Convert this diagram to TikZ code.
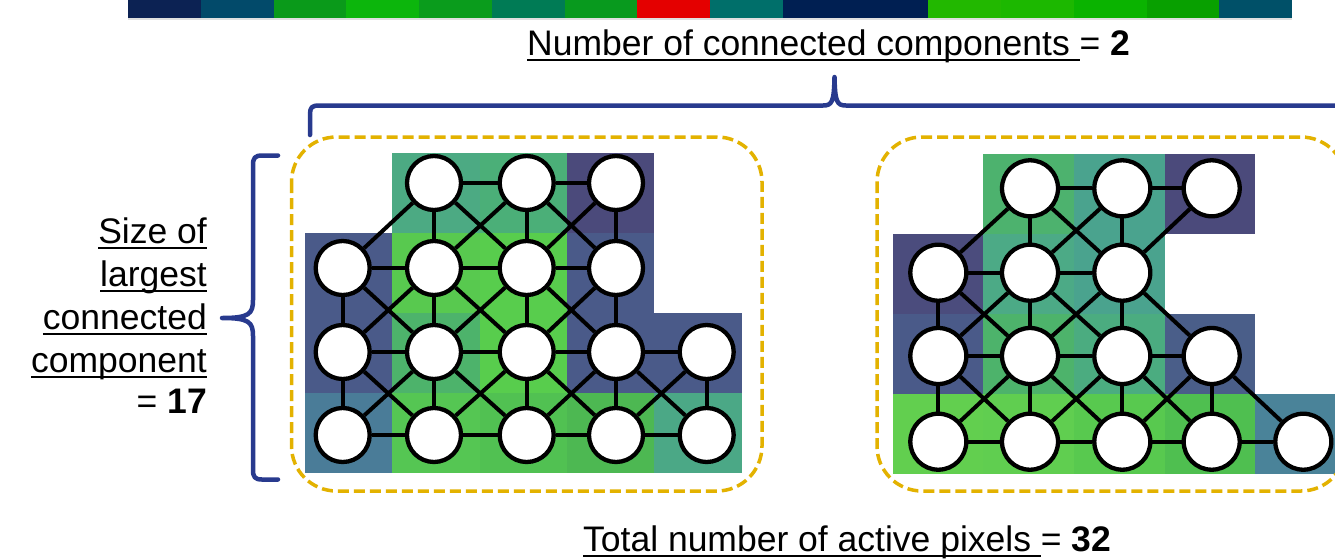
\documentclass[tikz,border=0pt]{standalone}
\usepackage{fontspec}
\setmainfont{Liberation Sans}
\newcommand{\ulx}[1]{\setbox0=\hbox{#1}\rlap{\rule[-0.17em]{\wd0}{0.065em}}\box0}
% top bar
\definecolor{b1}{HTML}{0C2253}
\definecolor{b2}{HTML}{024A6A}
\definecolor{b3}{HTML}{0A9A1A}
\definecolor{b4}{HTML}{0CB60C}
\definecolor{b5}{HTML}{0A9C1C}
\definecolor{b6}{HTML}{007B55}
\definecolor{b7}{HTML}{089A1E}
\definecolor{b8}{HTML}{E40000}
\definecolor{b9}{HTML}{006F6A}
\definecolor{b10}{HTML}{001F52}
\definecolor{b11}{HTML}{001F52}
\definecolor{b12}{HTML}{22B800}
\definecolor{b13}{HTML}{1CB800}
\definecolor{b14}{HTML}{0AB300}
\definecolor{b15}{HTML}{08A000}
\definecolor{b16}{HTML}{005068}
% cell palette
\definecolor{cteal}{HTML}{4CAA83}
\definecolor{cteal2}{HTML}{4BAF78}
\definecolor{cpurp}{HTML}{4B4A7B}
\definecolor{cslate}{HTML}{4A5A89}
\definecolor{cbright}{HTML}{58C94F}
\definecolor{cbright2}{HTML}{58CD4D}
\definecolor{cmid}{HTML}{4DB36B}
\definecolor{csteel}{HTML}{4A7C98}
\definecolor{cg1}{HTML}{55C653}
\definecolor{cg2}{HTML}{51C152}
\definecolor{cg3}{HTML}{4DB852}
\definecolor{cteal3}{HTML}{4BA886}
\definecolor{rgreen}{HTML}{4DB26E}
\definecolor{rteal}{HTML}{4AA38E}
\definecolor{rpurp}{HTML}{4B4C7D}
\definecolor{rteal2}{HTML}{4CAA86}
\definecolor{rmid}{HTML}{4BAC80}
\definecolor{rslate}{HTML}{4A5E89}
\definecolor{rb1}{HTML}{62CF4F}
\definecolor{rb2}{HTML}{60CE50}
\definecolor{rb3}{HTML}{58C94F}
\definecolor{rb4}{HTML}{4FBF50}
\definecolor{rsteel}{HTML}{4A8399}
\definecolor{boxgold}{HTML}{E3B200}
\definecolor{braceblue}{HTML}{283A8E}
\begin{document}
\begin{tikzpicture}[x=1pt,y=-1pt,
  nd/.style={circle,draw=black,fill=white,line width=4.3pt,minimum size=54pt,inner sep=0pt},
  ndr/.style={nd,minimum size=56pt},
  edgeline/.style={line width=4pt,black},
  gbox/.style={draw=boxgold,line width=3.5pt,dash pattern=on 11pt off 5pt,rounded corners=45pt},
  brace/.style={draw=braceblue,line width=4.5pt,line cap=round,line join=round},
  lbl/.style={font=\fontsize{35.5}{43}\selectfont,inner sep=0pt}]
\path[use as bounding box] (0,0) rectangle (1335,558);
\clip (0,0) rectangle (1335,558);
\fill[white] (0,0) rectangle (1335,558);
% top colour bar
\foreach \i in {1,...,16}{
  \fill[b\i] ({128+(\i-1)*72.75},0) rectangle ({128+\i*72.75+0.3},18);
}
\fill[black!12] (128,18) rectangle (1292,19.5);
% ---------- left grid cells ----------
\def\cellL#1#2#3{\fill[#3] ({305+#1*87.35},{153+#2*80}) rectangle ({305+(#1+1)*87.35},{153+(#2+1)*80});}
\cellL{1}{0}{cteal}\cellL{2}{0}{cteal2}\cellL{3}{0}{cpurp}
\cellL{0}{1}{cslate}\cellL{1}{1}{cbright}\cellL{2}{1}{cbright2}\cellL{3}{1}{cslate}
\cellL{0}{2}{cslate}\cellL{1}{2}{cmid}\cellL{2}{2}{cbright2}\cellL{3}{2}{cslate}\cellL{4}{2}{cslate}
\cellL{0}{3}{csteel}\cellL{1}{3}{cg1}\cellL{2}{3}{cg2}\cellL{3}{3}{cg3}\cellL{4}{3}{cteal3}
% ---------- right grid cells ----------
\def\cellR#1#2#3{\fill[#3] ({892.5+#1*90.7},{154+#2*80}) rectangle ({892.5+(#1+1)*90.7},{154+(#2+1)*80});}
\cellR{1}{0}{rgreen}\cellR{2}{0}{rteal}\cellR{3}{0}{cpurp}
\cellR{0}{1}{rpurp}\cellR{1}{1}{rteal2}\cellR{2}{1}{rteal}
\cellR{0}{2}{cslate}\cellR{1}{2}{cmid}\cellR{2}{2}{rmid}\cellR{3}{2}{rslate}
\cellR{0}{3}{rb1}\cellR{1}{3}{rb2}\cellR{2}{3}{rb3}\cellR{3}{3}{rb4}\cellR{4}{3}{rsteel}
% ---------- left nodes ----------
\node[nd] (L01) at (434,183) {};
\node[nd] (L02) at (526.7,183) {};
\node[nd] (L03) at (616,183) {};
\node[nd] (L10) at (342.7,268) {};
\node[nd] (L11) at (434,268) {};
\node[nd] (L12) at (526.7,268) {};
\node[nd] (L13) at (616,268) {};
\node[nd] (L20) at (342.7,352) {};
\node[nd] (L21) at (434,352) {};
\node[nd] (L22) at (526.7,352) {};
\node[nd] (L23) at (616,352) {};
\node[nd] (L24) at (706.7,352) {};
\node[nd] (L30) at (342.7,435) {};
\node[nd] (L31) at (434,435) {};
\node[nd] (L32) at (526.7,435) {};
\node[nd] (L33) at (616,435) {};
\node[nd] (L34) at (706.7,435) {};
% ---------- right nodes ----------
\node[ndr] (R01) at (1030,188.3) {};
\node[ndr] (R02) at (1122.3,188.3) {};
\node[ndr] (R03) at (1211.7,188.3) {};
\node[ndr] (R10) at (938.3,272.7) {};
\node[ndr] (R11) at (1030,272.7) {};
\node[ndr] (R12) at (1122.3,272.7) {};
\node[ndr] (R20) at (938.3,356) {};
\node[ndr] (R21) at (1030,356) {};
\node[ndr] (R22) at (1122.3,356) {};
\node[ndr] (R23) at (1211.7,356) {};
\node[ndr] (R30) at (938.3,441.7) {};
\node[ndr] (R31) at (1030,441.7) {};
\node[ndr] (R32) at (1122.3,441.7) {};
\node[ndr] (R33) at (1211.7,441.7) {};
\node[ndr] (R34) at (1303.3,441.7) {};
% ---------- edges ----------
\foreach \a/\b in {01/02,02/03,10/11,11/12,12/13,20/21,21/22,22/23,23/24,30/31,31/32,32/33,33/34,
  01/11,02/12,03/13,10/20,11/21,12/22,13/23,20/30,21/31,22/32,23/33,24/34,
  01/10,01/12,02/11,02/13,03/12,10/21,11/20,11/22,12/21,12/23,13/22,
  20/31,21/30,21/32,22/31,22/33,23/32,23/34,24/33}
  \draw[edgeline] (L\a) -- (L\b);
\foreach \a/\b in {01/02,02/03,10/11,11/12,20/21,21/22,22/23,30/31,31/32,32/33,33/34,
  01/11,02/12,10/20,11/21,12/22,20/30,21/31,22/32,23/33,
  01/10,01/12,02/11,03/12,10/21,11/20,11/22,12/21,12/23,
  20/31,21/30,21/32,22/31,22/33,23/32,23/34}
  \draw[edgeline] (R\a) -- (R\b);
% ---------- dashed boxes ----------
\draw[gbox] (291.5,137) rectangle (762,491);
\draw[gbox] (877,137) rectangle (1346,491);
% ---------- braces ----------
\draw[brace] (310,135) -- (310,114) .. controls (310,107.5) and (312,105.5) .. (319,105.5)
  -- (823,105.5) .. controls (832,105.5) and (834,102) .. (834.5,77)
  .. controls (835,102) and (837,105.5) .. (846,105.5) -- (1345,105.5);
\draw[brace] (278,155.5) -- (262,155.5) .. controls (255,155.5) and (253,158) .. (253,165)
  -- (253,300) .. controls (253,314) and (249,318) .. (222,318)
  .. controls (249,318) and (253,322) .. (253,336) -- (253,470)
  .. controls (253,477) and (255,479.5) .. (262,479.5) -- (278,479.5);
% ---------- labels ----------
\node[lbl,anchor=base west] (top) at (527,55) {\ulx{Number of connected components }= \textbf{2}};
\node[lbl,anchor=base west] (bot) at (583,551) {\ulx{Total number of active pixels }= \textbf{32}};
\node[lbl,anchor=base east] (s1) at (207,243) {\ulx{Size of}};
\node[lbl,anchor=base east] (s2) at (207,286) {\ulx{largest}};
\node[lbl,anchor=base east] (s3) at (207,329) {\ulx{connected}};
\node[lbl,anchor=base east] (s4) at (207,372) {\ulx{component}};
\node[lbl,anchor=base east] (s5) at (207,413) {= \textbf{17}};
\end{tikzpicture}
\end{document}
